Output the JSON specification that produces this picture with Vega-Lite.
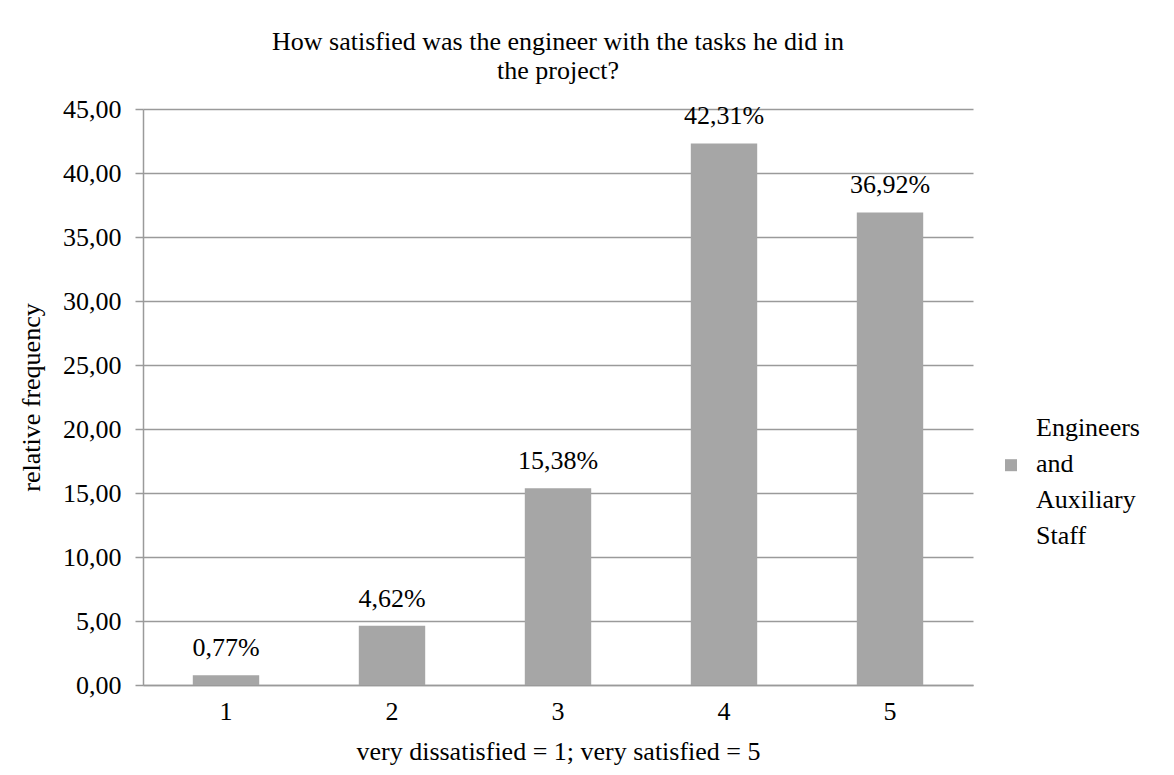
{
  "$schema": "https://vega.github.io/schema/vega-lite/v6.json",
  "autosize": {"type": "none"},
  "padding": {"left": 143, "top": 109, "right": 201, "bottom": 90},
  "width": 830,
  "height": 576,
  "background": "white",
  "title": {
    "text": ["How satisfied was the engineer with the tasks he did in", "the project?"],
    "anchor": "middle",
    "font": "Liberation Serif",
    "fontSize": 26,
    "fontWeight": "normal",
    "lineHeight": 29,
    "color": "#000000",
    "offset": 12
  },
  "data": {
    "values": [
      {"score": "1", "share": 0.77, "group": "Engineers and Auxiliary Staff"},
      {"score": "2", "share": 4.62, "group": "Engineers and Auxiliary Staff"},
      {"score": "3", "share": 15.38, "group": "Engineers and Auxiliary Staff"},
      {"score": "4", "share": 42.31, "group": "Engineers and Auxiliary Staff"},
      {"score": "5", "share": 36.92, "group": "Engineers and Auxiliary Staff"}
    ]
  },
  "encoding": {
    "x": {
      "field": "score",
      "type": "ordinal",
      "scale": {"paddingInner": 0.6, "paddingOuter": 0.3},
      "axis": {
        "title": "very dissatisfied = 1; very satisfied = 5",
        "labelAngle": 0,
        "labelFont": "Liberation Serif",
        "ticks": false,
        "domain": true,
        "domainColor": "#9a9a9a",
        "domainWidth": 1.5,
        "labelPadding": 13,
        "titlePadding": 14
      }
    },
    "y": {
      "field": "share",
      "type": "quantitative",
      "scale": {"domain": [0, 45], "nice": false},
      "axis": {
        "title": "relative  frequency",
        "values": [0, 5, 10, 15, 20, 25, 30, 35, 40, 45],
        "format": ".2f",
        "labelFont": "Liberation Serif",
        "grid": true,
        "gridColor": "#9a9a9a",
        "gridWidth": 1.5,
        "domain": true,
        "domainColor": "#9a9a9a",
        "domainWidth": 1.5,
        "ticks": true,
        "tickSize": 8,
        "tickColor": "#9a9a9a",
        "tickWidth": 1.5,
        "labelPadding": 14,
        "titlePadding": 18
      }
    }
  },
  "layer": [
    {
      "mark": {"type": "bar"},
      "encoding": {
        "color": {
          "field": "group",
          "type": "nominal",
          "scale": {"range": ["#a6a6a6"]},
          "legend": {
            "title": null,
            "orient": "none",
            "legendX": 855,
            "legendY": 306,
            "symbolType": "M-1,5.2H1V7.2H-1Z",
            "symbolSize": 144,
            "symbolStrokeWidth": 0,
            "labelExpr": "split(datum.label, ' ')",
            "labelFont": "Liberation Serif",
            "labelFontSize": 26,
            "labelColor": "#000000",
            "labelLimit": 400,
            "labelOffset": 12,
            "labelBaseline": "middle",
            "encode": {
              "labels": {
                "update": {
                  "lineHeight": {"value": 36},
                  "font": {"value": "Liberation Serif"}
                }
              }
            }
          }
        }
      }
    },
    {
      "mark": {"type": "text", "baseline": "alphabetic", "dy": -19, "fontSize": 26, "font": "Liberation Serif", "color": "#000000"},
      "encoding": {
        "text": {"field": "share", "type": "quantitative", "format": "$.2f"}
      }
    }
  ],
  "config": {
    "locale": {
      "number": {
        "decimal": ",",
        "thousands": ".",
        "grouping": [3],
        "currency": ["", "%"]
      }
    },
    "view": {"stroke": null},
    "axis": {
      "labelFont": "Liberation Serif",
      "labelFontSize": 26,
      "labelColor": "#000000",
      "titleFont": "Liberation Serif",
      "titleFontSize": 26,
      "titleFontWeight": "normal",
      "titleColor": "#000000"
    }
  }
}
